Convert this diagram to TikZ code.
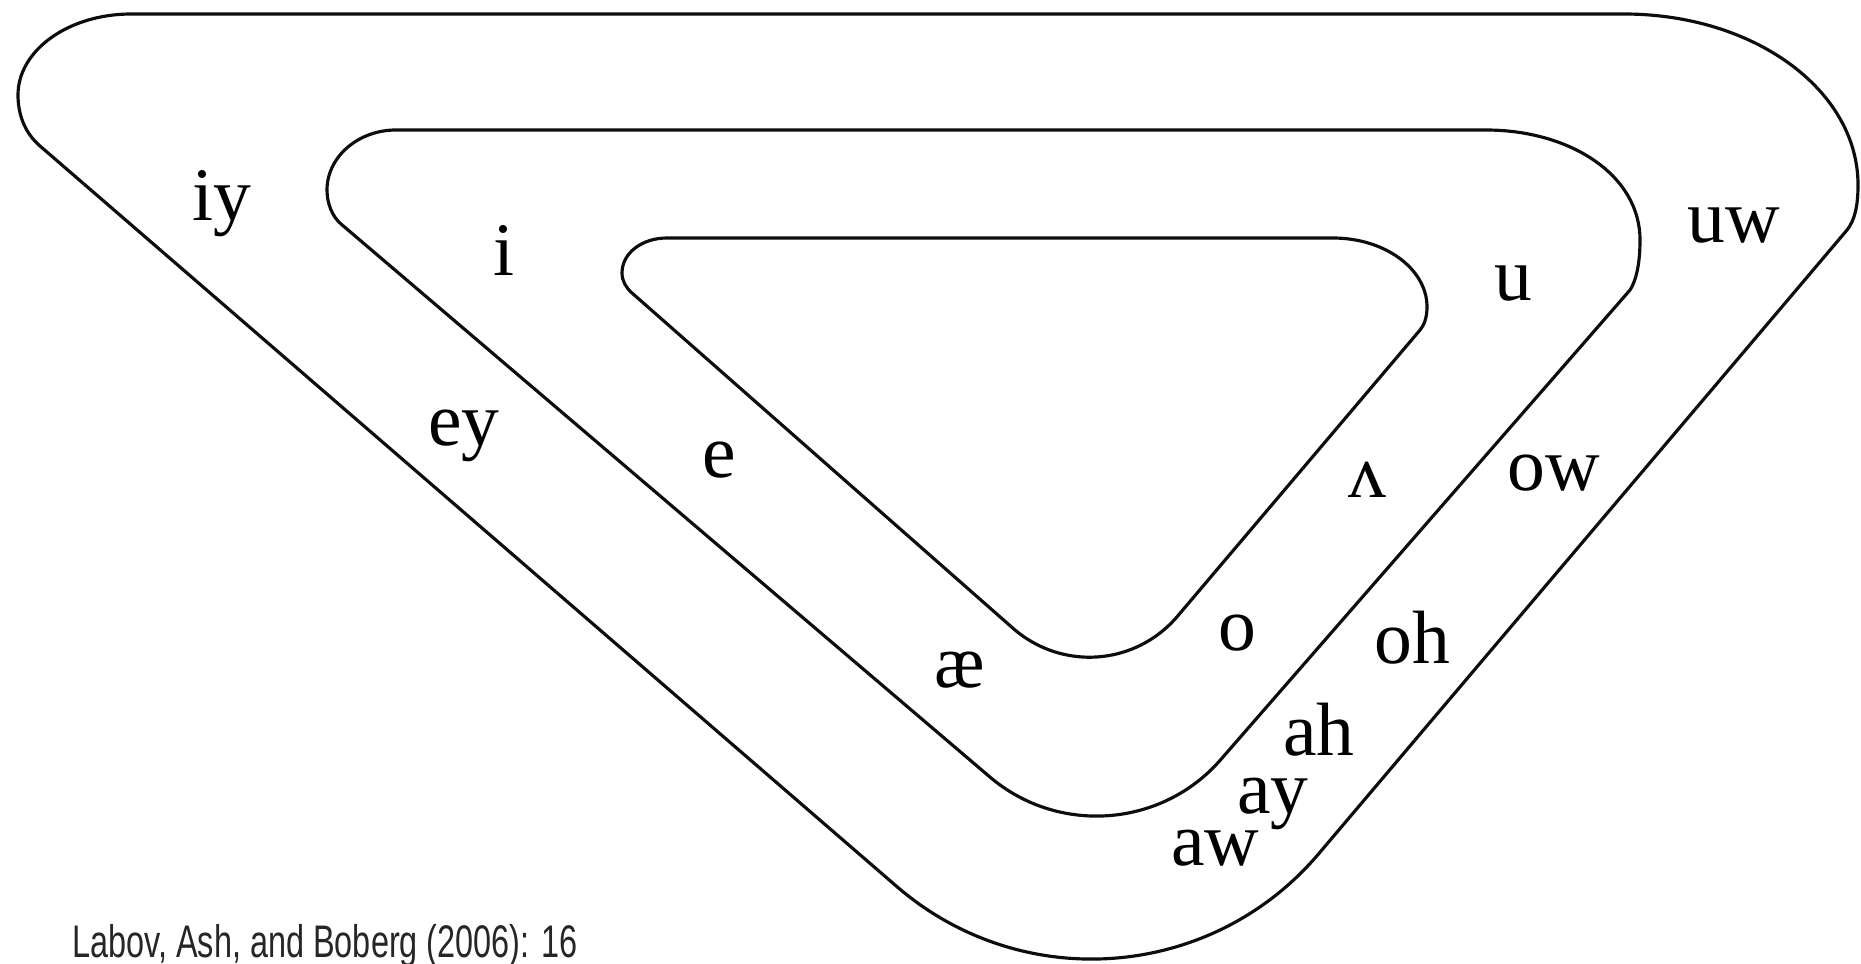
\documentclass[tikz,border=0pt]{standalone}
\usepackage{fontspec}
\usepackage{graphicx}
\setmainfont{Liberation Serif}
\newfontfamily\citefont{Liberation Sans}
\begin{document}
\begin{tikzpicture}[x=0.02cm,y=-0.02cm,
  loop/.style={draw=black!95, line width=1.8pt, line join=round},
  lbl/.style={inner sep=0pt, anchor=base west, font=\fontsize{43}{50}\selectfont},
  cite/.style={inner sep=0pt, anchor=base west, text=black!85, font=\citefont\fontsize{26}{30}\selectfont}]
\useasboundingbox (0,0) rectangle (1861,963);

% outer loop
\draw[loop] (131,14) -- (1624,14)
  .. controls (1754,14) and (1858,90) .. (1858,185)
  .. controls (1858,205) and (1855,220) .. (1847,230)
  -- (1317.1,855.6)
  .. controls (1209.6,980.4) and (1021.5,994.2) .. (896.9,886.6)
  -- (40,146)
  .. controls (25,133) and (18,115) .. (18,95)
  .. controls (18,50) and (69,14) .. cycle;

% middle loop
\draw[loop] (396,130) -- (1486,130)
  .. controls (1570,130) and (1640,175) .. (1640,240)
  .. controls (1640,262) and (1636.6,280) .. (1630,290)
  -- (1220.1,760.3)
  .. controls (1161.1,827.6) and (1058.0,835.0) .. (989.9,777.0)
  -- (341,224)
  .. controls (331.9,216.2) and (327,203) .. (327,190)
  .. controls (327,157) and (358,130) .. cycle;

% inner loop
\draw[loop] (667,238) -- (1333,238)
  .. controls (1385,238) and (1427,269) .. (1427,307)
  .. controls (1427,318) and (1423.9,325.4) .. (1420,330)
  -- (1177.6,616.1)
  .. controls (1135.5,665.8) and (1061.7,671.2) .. (1012.8,628.1)
  -- (632,293)
  .. controls (626,287.7) and (622,281) .. (622,273)
  .. controls (622,253) and (642,238) .. cycle;

% labels
\node[lbl] (iy) at (192,220) {iy};
\node[lbl] (i)  at (493,275) {i};
\node[lbl] (ey) at (428,445) {ey};
\node[lbl] (e)  at (702,477) {e};
\node[lbl] (ae) at (934,687) {æ};
\node[lbl] (o)  at (1218,650) {o};
\node[lbl] (ah) at (1283,755) {ah};
\node[lbl] (ay) at (1237,813) {ay};
\node[lbl] (aw) at (1171,865) {aw};
\node[lbl] (oh) at (1374,663) {oh};
\node[lbl] (wedge) at (1348,497) {ʌ};
\node[lbl] (ow) at (1507,490) {ow};
\node[lbl] (u)  at (1494,300) {u};
\node[lbl] (uw) at (1687,242) {uw};

\node[cite] (src) at (72,957) {\scalebox{0.71}[1]{Labov, Ash, and Boberg (2006): 16}};
\end{tikzpicture}
\end{document}
